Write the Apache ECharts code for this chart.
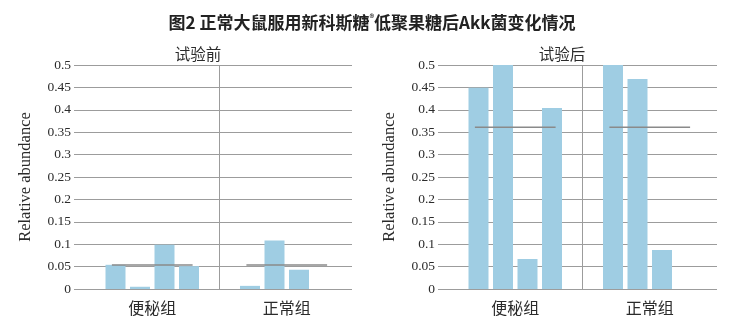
<!DOCTYPE html>
<html><head><meta charset="utf-8">
<script src="https://cdn.jsdelivr.net/npm/echarts@6/dist/echarts.min.js"></script>
<style>html,body{margin:0;padding:0;background:#fff}#c{width:737px;height:330px}</style>
</head><body><div id="c"></div>
<script>
// ---- data ----
const categories = ['便秘组', '正常组'];
const yTickLabels = ['0', '0.05', '0.1', '0.15', '0.2', '0.25', '0.3', '0.35', '0.4', '0.45', '0.5'];
// 试验前 (before) — four rats per group
const beforeS1 = [0.054, 0.007];
const beforeS2 = [0.005, 0.108];
const beforeS3 = [0.099, 0.043];
const beforeS4 = [0.051, null];
const beforeMean = [0.0535, 0.0535];
// 试验后 (after)
const afterS1 = [0.449, 0.5];
const afterS2 = [0.5, 0.469];
const afterS3 = [0.067, 0.087];
const afterS4 = [0.404, null];
const afterMean = [0.361, 0.361];

const yMax = 0.5, yStep = 0.05;
const barColor = '#9fcde3';
const gridColor = '#9c9c9c';
const textColor = '#2b2b2b';
const serif = '"Liberation Serif", "DejaVu Serif", serif';
const cjk = '"Noto Sans CJK SC", sans-serif';

const chart = echarts.init(document.getElementById('c'), null, {renderer: 'canvas'});

function bgY(gridIndex) {
  return {
    gridIndex, type: 'value', min: 0, max: yMax, interval: yStep,
    name: 'Relative abundance', nameLocation: 'middle', nameRotate: 90, nameGap: 40,
    nameTextStyle: {fontFamily: serif, fontSize: 16.5, color: textColor},
    axisLine: {show: false}, axisTick: {show: false},
    axisLabel: {margin: 3, fontFamily: serif, fontSize: 13.5, color: textColor,
      formatter: v => yTickLabels[Math.round(v / yStep)]},
    splitLine: {show: true, lineStyle: {color: gridColor, width: 1}}
  };
}
function barY(gridIndex) {
  return {gridIndex, type: 'value', min: 0, max: yMax, interval: yStep, show: false};
}
function bgX(gridIndex) {
  return {gridIndex, type: 'value', min: 0, max: 1, show: false};
}
function barX(gridIndex) {
  return {
    gridIndex, type: 'category', data: categories,
    axisLine: {show: false}, axisTick: {show: false},
    axisLabel: {margin: 11, fontFamily: cjk, fontSize: 16, color: textColor},
    splitLine: {show: true, showMinLine: false, showMaxLine: false, lineStyle: {color: gridColor, width: 1}}
  };
}
function bars(axisIdx, arrs) {
  return arrs.map(d => ({
    type: 'bar', xAxisIndex: axisIdx, yAxisIndex: axisIdx, data: d,
    barWidth: 20, barGap: '22.5%', itemStyle: {color: barColor}, silent: true
  }));
}
function meanLine(axisIdx, d) {
  return {
    type: 'custom', xAxisIndex: axisIdx, yAxisIndex: axisIdx, z: 10, silent: true,
    data: d.map((v, i) => [i, v]),
    renderItem: (params, api) => {
      const c = api.coord([api.value(0), api.value(1)]);
      const w = api.size([1, 0])[0] * 0.6;
      return {type: 'line', shape: {x1: c[0] - w / 2, y1: c[1], x2: c[0] + w / 2, y2: c[1]},
        style: {stroke: '#8a8a8a', lineWidth: 1.5}};
    }
  };
}

const option = {
  backgroundColor: '#fff',
  animation: false,
  title: [
    {
      text: '{a|图2 正常大鼠服用新科斯糖}{s|®}{a|低聚果糖后Akk菌变化情况}',
      left: 367, top: 9, textAlign: 'center',
      textStyle: {rich: {
        a: {fontFamily: cjk, fontSize: 17, fontWeight: 'bold', color: '#222'},
        s: {fontFamily: cjk, fontSize: 9, fontWeight: 'bold', color: '#222', verticalAlign: 'top', padding: [0, 0, 7, 0]}
      }}
    },
    {text: '试验前', left: 193, top: 41, textAlign: 'center',
      textStyle: {fontFamily: cjk, fontSize: 15.5, fontWeight: 'normal', color: textColor}},
    {text: '试验后', left: 557, top: 41, textAlign: 'center',
      textStyle: {fontFamily: cjk, fontSize: 15.5, fontWeight: 'normal', color: textColor}}
  ],
  grid: [
    {left: 74, width: 278, top: 65, bottom: 41},
    {left: 85, width: 269, top: 65, bottom: 41},
    {left: 438, width: 279, top: 65, bottom: 41},
    {left: 448, width: 269, top: 65, bottom: 41}
  ],
  xAxis: [bgX(0), barX(1), bgX(2), barX(3)],
  yAxis: [bgY(0), barY(1), bgY(2), barY(3)],
  series: [
    ...bars(1, [beforeS1, beforeS2, beforeS3, beforeS4]),
    meanLine(1, beforeMean),
    ...bars(3, [afterS1, afterS2, afterS3, afterS4]),
    meanLine(3, afterMean)
  ]
};
chart.setOption(option);
</script></body></html>
